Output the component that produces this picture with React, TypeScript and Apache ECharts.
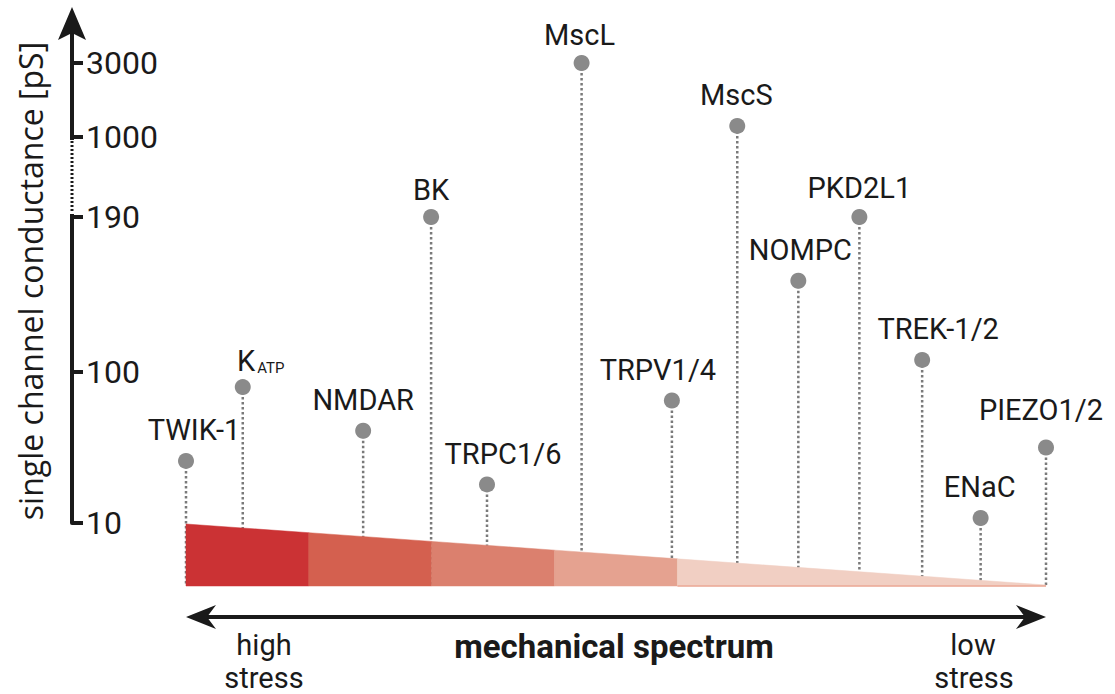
import React, { useEffect, useRef } from "react";
import * as echarts from "echarts";

// ---- data ----
const channels = ["TWIK-1", "KATP", "NMDAR", "BK", "TRPC1/6", "MscL", "TRPV1/4", "MscS", "NOMPC", "PKD2L1", "TREK-1/2", "ENaC", "PIEZO1/2"];
// position along the mechanical spectrum (0 = high stress, 100 = low stress)
const spectrumPos = [0, 6.6, 20.6, 28.5, 35.0, 46.0, 56.5, 64.1, 71.2, 78.3, 85.6, 92.4, 100];
// single channel conductance [pS]
const conductancePS = [47, 91, 65, 190, 33, 3000, 83, 1300, 153, 190, 107, 13, 55];

// broken y-axis: tick values (pS) and their position on the drawn scale
const tickValuesPS = [10, 100, 190, 1000, 3000];
const tickUnits = [0, 151, 306, 386, 460];

// wedge of the mechanical spectrum
const bandEdges = [0, 100 / 7, 200 / 7, 300 / 7, 400 / 7, 100];
const bandColors = ["#cb3234", "#d4604f", "#db806e", "#e5a290", "#f1cfc3"];

// label offsets (layout)
const labelOffsets: number[][] = [
  [8, 0], [18, 4], [0, 0], [0, 3], [16, 0], [-2, 2], [-14, 0], [-1, 0], [2, 0], [0, 1], [16, 0], [-1, 0], [-5, -7],
];

const WEDGE_TOP_START = -1;
const WEDGE_TOP_END = -62;
const WEDGE_BOTTOM = -63;

function toUnit(ps: number): number {
  for (let i = 0; i < tickValuesPS.length - 1; i++) {
    const a = tickValuesPS[i], b = tickValuesPS[i + 1];
    if (ps <= b || i === tickValuesPS.length - 2) {
      return tickUnits[i] + ((ps - a) / (b - a)) * (tickUnits[i + 1] - tickUnits[i]);
    }
  }
  return 0;
}
function wedgeTop(x: number): number {
  return WEDGE_TOP_START + (WEDGE_TOP_END - WEDGE_TOP_START) * (x / 100);
}

const FONT = "Roboto";
const TXT = "#1a1a1a";
const AXIS = "#1a1a1a";

export default function App() {
  const ref = useRef<HTMLDivElement>(null);
  useEffect(() => {
    if (!ref.current) return;
    const chart = echarts.init(ref.current, undefined, { renderer: "svg" });

    const points = channels.map((name, i) => {
      const item: any = {
        name,
        value: [spectrumPos[i], toUnit(conductancePS[i])],
        label: { offset: labelOffsets[i] },
      };
      if (name === "KATP") {
        item.label = { offset: labelOffsets[i], formatter: "{k|K}{sub|ATP}" };
      }
      return item;
    });

    const option: any = {
      animation: false,
      grid: { left: 186, right: 69, top: 23, height: 500 },
      xAxis: { type: "value", min: 0, max: 100, show: false },
      yAxis: {
        type: "value",
        min: 0,
        max: 500,
        position: "left",
        offset: 114,
        splitLine: { show: false },
        axisLine: {
          show: true,
          onZero: false,
          symbol: "none",
          lineStyle: { color: AXIS, width: 4 },
        },
        axisTick: {
          show: true,
          inside: true,
          length: 11,
          customValues: tickUnits,
          lineStyle: { color: AXIS, width: 4 },
        },
        axisLabel: {
          show: true,
          inside: true,
          margin: 14,
          customValues: tickUnits,
          formatter: (v: number) => {
            const idx = tickUnits.findIndex((u) => Math.abs(u - v) < 0.5);
            return idx >= 0 ? String(tickValuesPS[idx]) : "";
          },
          fontFamily: FONT,
          fontSize: 32,
          color: TXT,
        },
      },
      series: [
        {
          type: "custom",
          name: "stems",
          z: 1,
          silent: true,
          clip: false,
          data: channels.map((_, i) => [spectrumPos[i], toUnit(conductancePS[i])]),
          renderItem: (params: any, api: any) => {
            const x = api.value(0), y = api.value(1);
            const p1 = api.coord([x, y]);
            const p2 = api.coord([x, WEDGE_BOTTOM]);
            return {
              type: "line",
              shape: { x1: p1[0], y1: p1[1], x2: p2[0], y2: p2[1] },
              style: { stroke: "#7a7a7a", lineWidth: 2.5, lineDash: [2.5, 2.5] },
            };
          },
        },
        {
          type: "custom",
          name: "wedge",
          z: 3,
          silent: true,
          clip: false,
          data: bandColors.map((_, i) => [bandEdges[i], bandEdges[i + 1], i]),
          renderItem: (params: any, api: any) => {
            const x0 = api.value(0), x1 = api.value(1), ci = api.value(2);
            const pts = [
              api.coord([x0, wedgeTop(x0)]),
              api.coord([x1, wedgeTop(x1)]),
              api.coord([x1, WEDGE_BOTTOM]),
              api.coord([x0, WEDGE_BOTTOM]),
            ];
            const children: any[] = [
              { type: "polygon", shape: { points: pts }, style: { fill: bandColors[ci], stroke: bandColors[ci], lineWidth: 0.5 } },
            ];
            if (ci === bandColors.length - 1) {
              children.push({
                type: "line",
                shape: { x1: pts[3][0], y1: pts[3][1], x2: pts[2][0], y2: pts[2][1] },
                style: { stroke: "#eba896", lineWidth: 1.5 },
              });
            }
            return { type: "group", children };
          },
        },
        {
          type: "scatter",
          name: "channels",
          z: 5,
          symbol: "circle",
          symbolSize: 16,
          itemStyle: { color: "#8a8a8a", opacity: 1 },
          data: points,
          label: {
            show: true,
            position: "top",
            distance: 8,
            formatter: "{b}",
            fontFamily: FONT,
            fontSize: 29,
            lineHeight: 29,
            color: TXT,
            opacity: 1,
            rich: {
              k: { fontFamily: FONT, fontSize: 29, lineHeight: 29, verticalAlign: "top", color: TXT },
              sub: { fontFamily: FONT, fontSize: 15, lineHeight: 15, verticalAlign: "bottom", padding: [38, 0, 0, 2], color: TXT },
            },
          },
        },
      ],
    };
    chart.setOption(option);

    const axX = 72;
    const yTop = chart.convertToPixel({ yAxisIndex: 0 }, 500) as number;
    const yBreakTop = chart.convertToPixel({ yAxisIndex: 0 }, tickUnits[3]) as number;
    const yBreakBottom = chart.convertToPixel({ yAxisIndex: 0 }, tickUnits[2]) as number;
    const arrowY = 617;
    const xL = chart.convertToPixel({ xAxisIndex: 0 }, 0) as number;
    const xR = chart.convertToPixel({ xAxisIndex: 0 }, 100) as number;
    const tipY = yTop - 16;

    const bottomText = (text: string, x: number, y: number) => ({
      type: "text", z: 100, x, y,
      style: { text, fontFamily: FONT, fontSize: 29, lineHeight: 30, fill: TXT, align: "center", verticalAlign: "middle" },
    });

    chart.setOption({
      graphic: [
        { type: "polygon", z: 100, shape: { points: [[axX, tipY], [axX + 14, tipY + 33], [axX, tipY + 26], [axX - 14, tipY + 33]] }, style: { fill: AXIS } },
        { type: "rect", z: 100, shape: { x: axX - 6, y: yBreakTop + 3, width: 12, height: yBreakBottom - yBreakTop - 6 }, style: { fill: "#ffffff" } },
        { type: "line", z: 101, shape: { x1: axX, y1: yBreakTop + 4, x2: axX, y2: yBreakBottom - 5 }, style: { stroke: AXIS, lineWidth: 3, lineDash: [2, 2] } },
        {
          type: "text", z: 100, x: 30, y: 281, rotation: Math.PI / 2,
          style: { text: "single channel conductance [pS]", fontFamily: "Open Sans", fontSize: 32, fill: TXT, align: "center", verticalAlign: "middle" },
        },
        { type: "line", z: 100, shape: { x1: xL + 18, y1: arrowY, x2: xR - 18, y2: arrowY }, style: { stroke: AXIS, lineWidth: 4 } },
        {
          type: "polygon", z: 100,
          shape: { points: [[xL, arrowY], [xL + 30, arrowY - 12], [xL + 21, arrowY], [xL + 30, arrowY + 12]] },
          style: { fill: AXIS },
        },
        {
          type: "polygon", z: 100,
          shape: { points: [[xR, arrowY], [xR - 30, arrowY - 12], [xR - 21, arrowY], [xR - 30, arrowY + 12]] },
          style: { fill: AXIS },
        },
        bottomText("high", 264, 645),
        bottomText("stress", 264, 678),
        { type: "text", z: 100, x: 614, y: 646, style: { text: "mechanical spectrum", fontFamily: FONT, fontWeight: "bold", fontSize: 33, fill: TXT, align: "center", verticalAlign: "middle" } },
        bottomText("low", 973, 645),
        bottomText("stress", 974, 678),
      ],
    });

    return () => chart.dispose();
  }, []);
  return <div ref={ref} style={{ width: 1115, height: 694, position: "absolute", left: 0, top: 0 }} />;
}
